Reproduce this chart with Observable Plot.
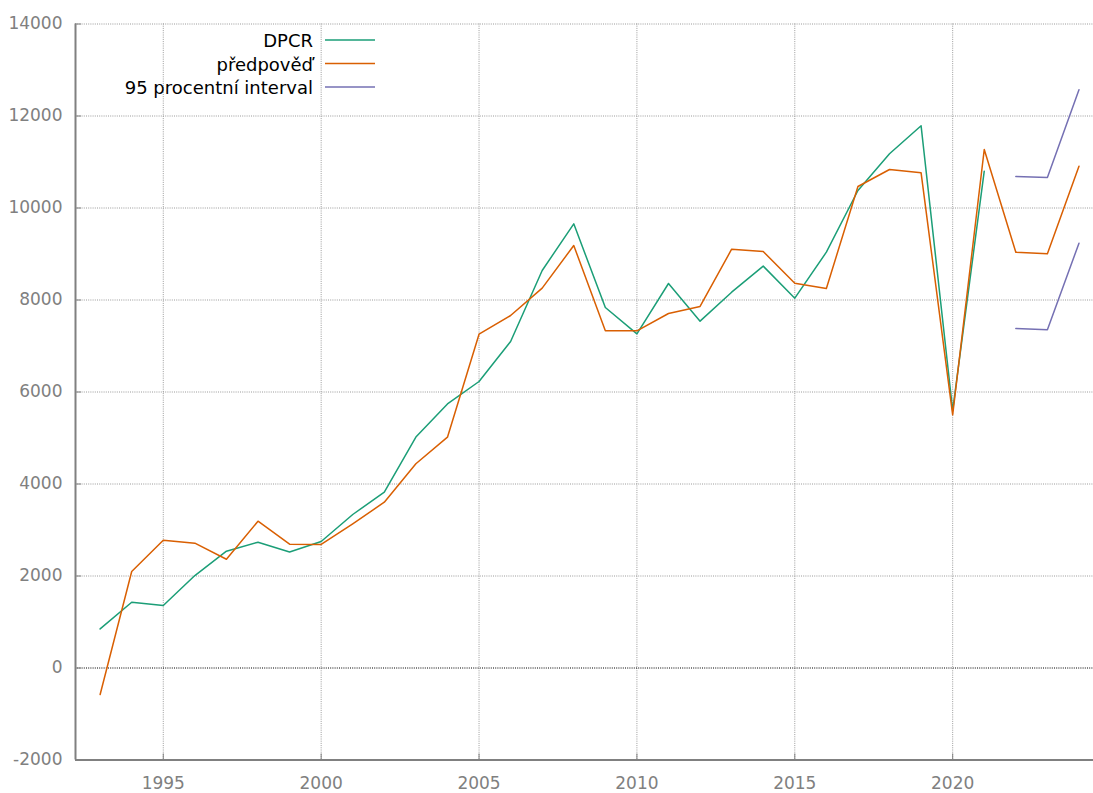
<!DOCTYPE html>
<html>
<head>
<meta charset="utf-8">
<script src="https://cdn.jsdelivr.net/npm/d3@7"></script>
<script src="https://cdn.jsdelivr.net/npm/@observablehq/plot@0.6"></script>
<style>
  body { margin: 0; background: #fff; }
  #wrap { position: relative; width: 1093px; height: 793px; }
  #wrap svg { display: block; }
  #legend { position: absolute; left: 0; top: 0; }
</style>
</head>
<body>
<div id="wrap"></div>
<script>
// ---- data ----
const dpcrYears = [1993,1994,1995,1996,1997,1998,1999,2000,2001,2002,2003,2004,2005,2006,2007,2008,2009,2010,2011,2012,2013,2014,2015,2016,2017,2018,2019,2020,2021];
const dpcrValues = [850,1430,1360,2010,2540,2735,2520,2750,3337,3822,5020,5740,6228,7098,8641,9656,7837,7265,8359,7540,8170,8736,8040,9040,10380,11178,11787,5600,10800];

const forecastYears = [1993,1994,1995,1996,1997,1998,1999,2000,2001,2002,2003,2004,2005,2006,2007,2008,2009,2010,2011,2012,2013,2014,2015,2016,2017,2018,2019,2020,2021,2022,2023,2024];
const forecastValues = [-576,2098,2778,2713,2365,3191,2691,2685,3134,3604,4440,5018,7257,7663,8257,9185,7330,7330,7707,7859,9104,9054,8366,8250,10467,10837,10765,5504,11272,9039,9004,10909];

const intervalYears = [2022,2023,2024];
const intervalUpper = [10685,10663,12570];
const intervalLower = [7380,7352,9235];

const xTicks = [1995,2000,2005,2010,2015,2020];
const yTicks = [-2000,0,2000,4000,6000,8000,10000,12000,14000];
const yGrid = [2000,4000,6000,8000,10000,12000,14000];

const seriesNames = ["DPCR","předpověď","95 procentní interval"];
const seriesColors = ["#1b9e77","#d95f02","#7570b3"];

// ---- tables ----
const dpcr = dpcrYears.map((y,i)=>({year:y, value:dpcrValues[i]}));
const forecast = forecastYears.map((y,i)=>({year:y, value:forecastValues[i]}));
const interval = [
  ...intervalYears.map((y,i)=>({year:y, value:intervalUpper[i], band:"upper"})),
  ...intervalYears.map((y,i)=>({year:y, value:intervalLower[i], band:"lower"}))
];

// ---- layout ----
const W = 1093, H = 793;
const mL = 75, mR = 0, mT = 23.5, mB = 33.5;
const plotW = W - mL - mR, plotH = H - mT - mB;
const xDomain = [1992.22, 2024.46];
const yDomain = [-2000, 14000];
const axisGray = "#808080";

const chart = Plot.plot({
  width: W, height: H,
  marginLeft: mL, marginRight: mR, marginTop: mT, marginBottom: mB,
  style: {fontFamily: "DejaVu Sans", fontSize: "17px", color: axisGray, background: "#fff"},
  x: {domain: xDomain, label: null},
  y: {domain: yDomain, label: null},
  marks: [
    Plot.ruleX(xTicks, {stroke: "#9a9a9a", strokeDasharray: "1,1.2", strokeWidth: 1}),
    Plot.ruleY(yGrid, {stroke: "#9a9a9a", strokeDasharray: "1,1.2", strokeWidth: 1}),
    Plot.ruleY([0], {stroke: "#000", strokeDasharray: "1,1.2", strokeWidth: 1}),
    Plot.ruleX(xTicks, {stroke: axisGray, strokeWidth: 1, insetTop: plotH - 6}),
    Plot.ruleY(yTicks, {stroke: axisGray, strokeWidth: 1, insetRight: plotW - 6}),
    Plot.ruleX([xDomain[0]], {stroke: axisGray, strokeWidth: 2}),
    Plot.ruleY([yDomain[0]], {stroke: axisGray, strokeWidth: 2}),
    Plot.axisX({ticks: xTicks, tickSize: 0, tickPadding: 17, tickFormat: d => String(d)}),
    Plot.axisY({ticks: yTicks, tickSize: 0, tickPadding: 13, tickFormat: d => String(d)}),
    Plot.line(dpcr, {x: "year", y: "value", stroke: seriesColors[0], strokeWidth: 1.5}),
    Plot.line(forecast, {x: "year", y: "value", stroke: seriesColors[1], strokeWidth: 1.5}),
    Plot.line(interval, {x: "year", y: "value", z: "band", stroke: seriesColors[2], strokeWidth: 1.5})
  ]
});

const wrap = document.getElementById("wrap");
wrap.appendChild(chart);

// ---- legend (inside plot, top-left) ----
const leg = d3.create("svg").attr("id", "legend").attr("width", W).attr("height", 120);
const rowY = [40, 63.5, 87];
seriesNames.forEach((name, i) => {
  leg.append("text")
    .attr("x", 313).attr("y", rowY[i] + 1).attr("dy", "0.36em")
    .attr("text-anchor", "end")
    .attr("font-family", "DejaVu Sans").attr("font-size", 18).attr("fill", "#000")
    .text(name);
  leg.append("line")
    .attr("x1", 325).attr("x2", 375).attr("y1", rowY[i]).attr("y2", rowY[i])
    .attr("stroke", seriesColors[i]).attr("stroke-width", 1.5);
});
wrap.appendChild(leg.node());
</script>
</body>
</html>
